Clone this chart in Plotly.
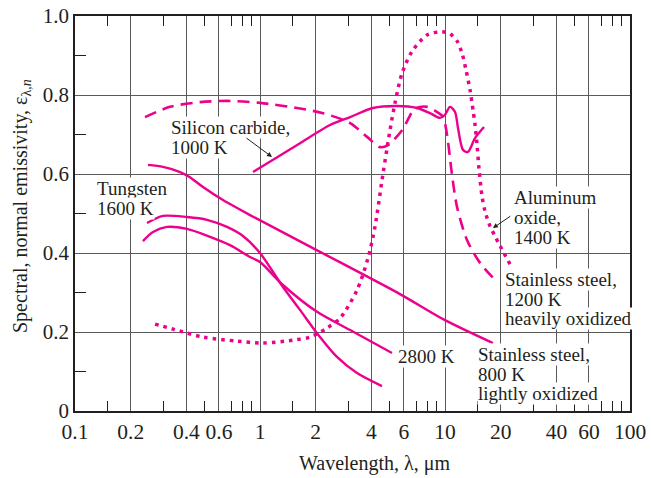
import plotly.graph_objects as go

# spectral normal emissivity vs wavelength
ss1200_wl = [0.239, 0.326, 0.474, 0.688, 1.0, 1.585, 2.19, 3.07, 3.79, 4.45, 4.92,
             5.86, 6.88, 8.0, 9.05, 9.75, 10.25, 10.9, 11.6, 13.15, 15.46, 19.1]
ss1200_eps = [0.744, 0.770, 0.782, 0.785, 0.780, 0.767, 0.754, 0.729, 0.694, 0.668, 0.673,
              0.711, 0.765, 0.770, 0.757, 0.745, 0.700, 0.600, 0.518, 0.433, 0.375, 0.327]

sic_wl = [0.917, 1.283, 1.645, 2.39, 3.07, 4.08, 5.50, 7.06, 8.30, 9.40, 10.0,
          10.64, 11.33, 11.76, 12.51, 13.31, 14.53, 16.25]
sic_eps = [0.605, 0.647, 0.678, 0.724, 0.744, 0.767, 0.772, 0.767, 0.754, 0.742, 0.750,
           0.770, 0.757, 0.716, 0.661, 0.656, 0.691, 0.719]

al2o3_wl = [0.271, 0.365, 0.492, 0.751, 1.025, 1.546, 1.863, 2.30, 2.71, 3.345, 3.835,
            4.18, 4.62, 5.04, 5.37, 5.86, 6.63, 8.0, 9.63, 10.64, 11.6, 12.36, 12.99,
            13.65, 14.17, 14.53, 14.89, 15.27, 15.85, 16.45, 17.51, 18.63, 19.83, 22.46]
al2o3_eps = [0.220, 0.203, 0.187, 0.177, 0.172, 0.180, 0.187, 0.210, 0.235, 0.306, 0.387,
             0.466, 0.600, 0.710, 0.780, 0.855, 0.910, 0.952, 0.960, 0.955, 0.937, 0.906,
             0.863, 0.813, 0.762, 0.725, 0.676, 0.613, 0.544, 0.506, 0.468, 0.443, 0.418, 0.372]

ss800_wl = [0.248, 0.299, 0.370, 0.418, 0.492, 0.631, 0.883, 2.11, 5.71, 10.0, 18.17]
ss800_eps = [0.623, 0.618, 0.605, 0.592, 0.567, 0.534, 0.496, 0.403, 0.296, 0.230, 0.172]

w1600_wl = [0.245, 0.299, 0.403, 0.517, 0.663, 0.809, 1.0, 1.331, 1.645, 2.033, 2.607, 3.345, 4.565]
w1600_eps = [0.476, 0.494, 0.491, 0.484, 0.466, 0.443, 0.400, 0.314, 0.256, 0.197, 0.137, 0.096, 0.063]

w2800_wl = [0.233, 0.264, 0.314, 0.403, 0.537, 0.688, 0.883, 1.0, 1.331, 2.033, 3.07, 5.17]
w2800_eps = [0.430, 0.453, 0.466, 0.461, 0.441, 0.420, 0.390, 0.377, 0.319, 0.251, 0.205, 0.147]

x_ticks = [0.1, 0.2, 0.4, 0.6, 1, 2, 4, 6, 10, 20, 40, 60, 100]
x_ticktext = ["0.1", "0.2", "0.4", "0.6", "1", "2", "4", "6", "10", "20", "40", "60", "100"]
x_minor = [0.15, 0.3, 0.5, 0.7, 0.8, 0.9, 1.5, 3, 5, 7, 8, 9, 15, 30, 50, 70, 80, 90]
y_ticks = [0, 0.2, 0.4, 0.6, 0.8, 1.0]
y_ticktext = ["0", "0.2", "0.4", "0.6", "0.8", "1.0"]
y_minor = [0.1, 0.3, 0.5, 0.7, 0.9]

PINK = "#EC008C"
INK = "#231F20"
FONT = "Liberation Serif"

fig = go.Figure()
curves = [
    (ss1200_wl, ss1200_eps, "12px,7px", 2.6),
    (sic_wl, sic_eps, "solid", 2.4),
    (al2o3_wl, al2o3_eps, "3.5px,5px", 3.5),
    (ss800_wl, ss800_eps, "solid", 2.4),
    (w1600_wl, w1600_eps, "solid", 2.4),
    (w2800_wl, w2800_eps, "solid", 2.4),
]
for wl, eps, dash, w in curves:
    fig.add_trace(go.Scatter(x=wl, y=eps, mode="lines", showlegend=False,
                             line=dict(color=PINK, width=w, dash=dash,
                                       shape="spline", smoothing=0.8)))

# label positions in plot pixels (left edge, line centre)
L, T, W, H = 75, 16, 555, 395
def lab(txt, px, py, **kw):
    fig.add_annotation(text=txt, xref="paper", yref="paper",
                       x=(px - L) / W, y=(T + H - py) / H,
                       xanchor="left", yanchor="middle", showarrow=False,
                       bgcolor="white", borderpad=0,
                       font=dict(family=FONT, size=19, color=INK), **kw)

lab("Silicon carbide,", 170, 127)
lab("1000 K", 170, 147)
lab("Tungsten", 96, 188)
lab("1600 K", 96, 208)
lab("Aluminum", 513, 197)
lab("oxide,", 513, 217)
lab("1400 K", 513, 237)
lab("Stainless steel,", 504, 279)
lab("1200 K", 504, 299)
lab("heavily oxidized", 504, 318)
lab("2800 K", 397, 356)
lab("Stainless steel,", 477, 354)
lab("800 K", 477, 374)
lab("lightly oxidized", 477, 393)

# pointer arrows
fig.add_annotation(x=0.065, y=0.643, ax=-27, ay=-20, text="", showarrow=True,
                   arrowhead=2, arrowsize=1, arrowwidth=1, arrowcolor=INK)
fig.add_annotation(x=1.259, y=0.463, ax=19, ay=-13, text="", showarrow=True,
                   arrowhead=2, arrowsize=1, arrowwidth=1, arrowcolor=INK)

# axis titles
fig.add_annotation(text="Wavelength, λ, μm", xref="paper", yref="paper",
                   x=(374 - L) / W, y=(T + H - 463) / H, showarrow=False,
                   xanchor="center", yanchor="middle",
                   font=dict(family=FONT, size=20, color=INK))
fig.add_annotation(text="Spectral, normal emissivity, ε<sub>λ,<i>n</i></sub>",
                   xref="paper", yref="paper", textangle=-90,
                   x=(21 - L) / W, y=(T + H - 206) / H, showarrow=False,
                   xanchor="center", yanchor="middle",
                   font=dict(family=FONT, size=20, color=INK))

fig.update_xaxes(type="log", range=[-1, 2], tickvals=x_ticks, ticktext=x_ticktext,
                 ticks="", showgrid=True, gridcolor="#5a5a5a", gridwidth=1.2,
                 showline=True, linecolor=INK, linewidth=1.5, mirror="ticks",
                 zeroline=False, automargin=False,
                 minor=dict(tickvals=x_minor, ticks="inside", ticklen=10,
                            tickcolor=INK, tickwidth=1.2, showgrid=False),
                 tickfont=dict(family=FONT, size=21.5, color=INK))
fig.update_yaxes(range=[0, 1], tickvals=y_ticks, ticktext=y_ticktext,
                 ticks="", showgrid=True, gridcolor="#5a5a5a", gridwidth=1.2,
                 showline=True, linecolor=INK, linewidth=1.5, mirror=True,
                 zeroline=False, automargin=False,
                 minor=dict(tickvals=y_minor, ticks="inside", ticklen=11,
                            tickcolor=INK, tickwidth=1.2, showgrid=False),
                 tickfont=dict(family=FONT, size=21, color=INK))

fig.update_layout(width=651, height=478, margin=dict(l=75, r=21, t=16, b=67),
                  plot_bgcolor="white", paper_bgcolor="white")

fig.write_html("out.html", config={"displayModeBar": False},
               post_script="document.body.style.margin='0px';")
